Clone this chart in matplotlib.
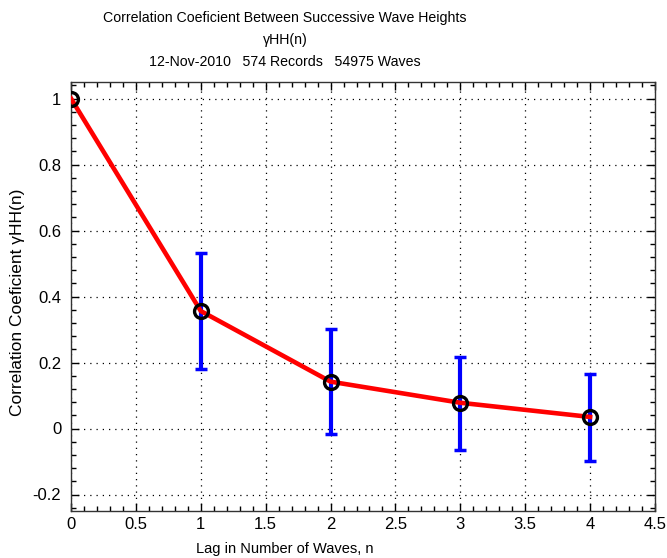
import numpy as np
import matplotlib
matplotlib.use("Agg")
import matplotlib.pyplot as plt
from matplotlib.ticker import MultipleLocator, FormatStrFormatter

# --- data ---
lag = [0, 1, 2, 3, 4]
gamma_hh = [1.0, 0.356, 0.142, 0.078, 0.035]
err_upper = [1.0, 0.532, 0.302, 0.216, 0.164]
err_lower = [1.0, 0.180, -0.018, -0.064, -0.099]

x_ticks = [0, 0.5, 1, 1.5, 2, 2.5, 3, 3.5, 4, 4.5]
y_ticks = [-0.2, 0, 0.2, 0.4, 0.6, 0.8, 1.0]

title_lines = ["Correlation Coeficient Between Successive Wave Heights",
               "\u03b3HH(n)",
               "12-Nov-2010   574 Records   54975 Waves"]

plt.rcParams['font.family'] = ['Liberation Sans', 'DejaVu Sans']
plt.rcParams['font.size'] = 10

W, H = 667, 558
fig = plt.figure(figsize=(W / 100, H / 100), dpi=100)
ax = fig.add_axes([71 / W, 1 - 511 / H, (655 - 71) / W, (511 - 82) / H])

# error bars (only for lags > 0)
xe = np.array(lag[1:])
ye = np.array(gamma_hh[1:])
lo = ye - np.array(err_lower[1:])
hi = np.array(err_upper[1:]) - ye
ax.errorbar(xe, ye, yerr=[lo, hi], fmt='none', ecolor='blue',
            elinewidth=3, capsize=4.5, capthick=2.5, zorder=2)

ax.plot(lag, gamma_hh, '-', color='red', lw=3.3, zorder=3)
ax.plot(lag, gamma_hh, 'o', mfc='none', mec='black', ms=10, mew=2.4, zorder=4)

ax.set_xlim(0, 4.5)
ax.set_ylim(-0.25, 1.05)
ax.set_xticks(x_ticks)
ax.set_yticks(y_ticks)
ax.xaxis.set_major_formatter(FormatStrFormatter('%g'))
ax.yaxis.set_major_formatter(FormatStrFormatter('%g'))
ax.xaxis.set_minor_locator(MultipleLocator(0.1))
ax.yaxis.set_minor_locator(MultipleLocator(0.04))
ax.tick_params(which='both', direction='in', top=True, right=True, width=1)
ax.tick_params(which='major', length=6, labelsize=12, pad=7)
ax.tick_params(axis='x', which='major', pad=4)
ax.tick_params(which='minor', length=3.5)
ax.grid(True, which='major', color='black', linestyle=(0, (1, 4)), linewidth=0.9)
for s in ax.spines.values():
    s.set_linewidth(1.0)
    s.set_color('#333333')

ax.set_xlabel("Lag in Number of Waves, n", fontsize=10.5)
ax.set_ylabel("Correlation Coeficient \u03b3HH(n)", fontsize=12.5)
ax.xaxis.set_label_coords((285 - 71) / (655 - 71), -0.073)
ax.yaxis.set_label_coords(-0.078, 0.487)

for i, t in enumerate(title_lines):
    fig.text(285 / W, 1 - (18 + 22 * i) / H, t, ha='center', va='center',
             fontsize=10.2)

fig.savefig("out.png", dpi=100)
